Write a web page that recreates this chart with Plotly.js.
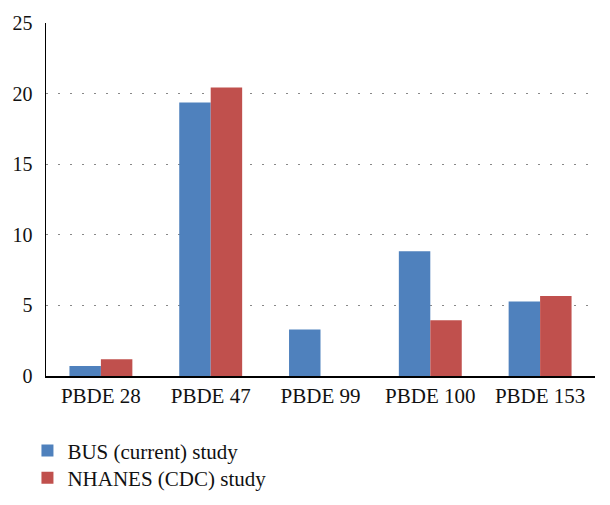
<!DOCTYPE html>
<html>
<head>
<meta charset="utf-8">
<script src="https://cdn.plot.ly/plotly-3.0.1.min.js"></script>
<style>html,body{margin:0;padding:0;background:#fff;}#chart{width:610px;height:505px;}</style>
</head>
<body>
<div id="chart"></div>
<script>
var categories = ["PBDE 28", "PBDE 47", "PBDE 99", "PBDE 100", "PBDE 153"];
var busValues = [0.71, 19.37, 3.30, 8.83, 5.27];
var nhanesValues = [1.18, 20.43, null, 3.95, 5.67];
var seriesNames = ["BUS (current) study", "NHANES (CDC) study"];
var yTicks = [0, 5, 10, 15, 20, 25];

var font = "'Liberation Serif', 'Times New Roman', serif";
var legendFont = {family: font, size: 21, color: "#111"};

var data = [
  {type: "bar", x: categories, y: busValues, name: seriesNames[0], marker: {color: "#4F81BD"}, legend: "legend"},
  {type: "bar", x: categories, y: nhanesValues, name: seriesNames[1], marker: {color: "#C0504D"}, legend: "legend2"}
];

var layout = {
  width: 610, height: 505,
  margin: {l: 46, r: 15, t: 23, b: 129, autoexpand: false},
  paper_bgcolor: "#fff", plot_bgcolor: "#fff",
  barmode: "group", bargap: 0.427, bargroupgap: 0,
  font: {family: font, color: "#111", size: 21},
  showlegend: true,
  legend: {
    xref: "container", yref: "container",
    x: 0.045, xanchor: "left", y: 0.107, yanchor: "middle",
    font: legendFont, itemclick: false, bgcolor: "rgba(0,0,0,0)"
  },
  legend2: {
    xref: "container", yref: "container",
    x: 0.045, xanchor: "left", y: 0.0535, yanchor: "middle",
    font: legendFont, itemclick: false, bgcolor: "rgba(0,0,0,0)"
  },
  xaxis: {
    showline: true, linecolor: "#000", linewidth: 1.5,
    showgrid: false, ticks: "", tickangle: 0,
    tickfont: {family: font, size: 21, color: "#111"},
    fixedrange: true
  },
  yaxis: {
    range: [0, 25], tickvals: yTicks, ticktext: yTicks.map(String),
    showline: true, linecolor: "#000", linewidth: 1.5,
    showgrid: true, gridcolor: "#888", gridwidth: 1, griddash: "2px,10px",
    zeroline: false, ticks: "", ticklabelstandoff: 8,
    tickfont: {family: font, size: 20, color: "#111"},
    fixedrange: true
  }
};

Plotly.newPlot("chart", data, layout, {displayModeBar: false, staticPlot: true});
</script>
</body>
</html>
